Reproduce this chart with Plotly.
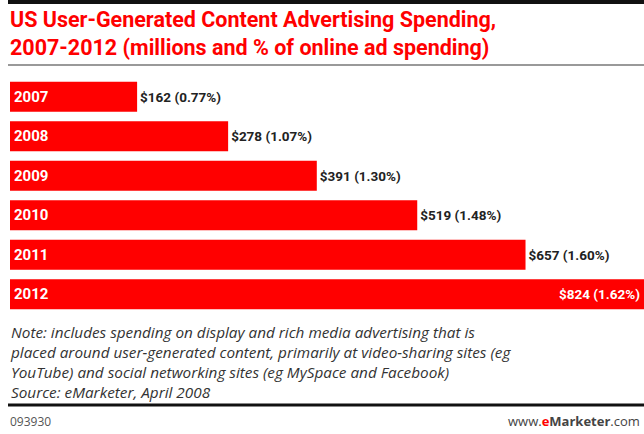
import plotly.graph_objects as go

# data
years = ['2007', '2008', '2009', '2010', '2011', '2012']
spend = [162, 278, 391, 519, 657, 824]
share = [0.77, 1.07, 1.30, 1.48, 1.60, 1.62]

W, H = 644, 434
ML, MR, MT, MB = 10, 0, 77, 120
PW, PH = W - ML - MR, H - MT - MB
XMAX = 808
FONT = 'Roboto'


def px_x(x):
    return (x - ML) / PW


def px_y(y):
    return (H - MB - y) / PH


labels = ['<b>$%d (%.2f%%)</b>' % (v, s) for v, s in zip(spend, share)]
# last bar runs off the right edge, its label sits inside it (annotation below)
out_labels = labels[:-1] + ['']

fig = go.Figure()
fig.add_trace(go.Bar(
    y=years, x=spend, orientation='h',
    marker=dict(color='#ff0000', line=dict(width=0)),
    text=out_labels, textposition='outside', constraintext='none',
    outsidetextfont=dict(family=FONT, size=13.5, color='#222222'),
    cliponaxis=False, hoverinfo='skip',
))

annotations = []
# year names inside the bars
for i, yr in enumerate(years):
    annotations.append(dict(
        x=0, y=i, xref='x', yref='y', text='<b>%s</b>' % yr, showarrow=False,
        xanchor='left', xshift=2,
        font=dict(family=FONT, size=15, color='white')))

# 2012 value, inside the clipped bar (paper coords so it is not hidden off-range)
annotations.append(dict(
    x=spend[-1] / XMAX, y=len(years) - 1, xref='paper', yref='y', text=labels[-1], showarrow=False,
    xanchor='right', xshift=-15, font=dict(family=FONT, size=13.5, color='white')))

# title
annotations.append(dict(
    x=px_x(8), y=px_y(5), xref='paper', yref='paper', xanchor='left', yanchor='top', align='left',
    text='<b>US User-Generated Content Advertising Spending,<br>2007-2012 (millions and % of online ad spending)</b>',
    showarrow=False, font=dict(family=FONT, size=21.5, color='#ff0000')))

# note
annotations.append(dict(
    x=px_x(8), y=px_y(320), xref='paper', yref='paper', xanchor='left', yanchor='top', align='left',
    text='<i>Note: includes spending on display and rich media advertising that is<br>'
         'placed around user-generated content, primarily at video-sharing sites (eg<br>'
         'YouTube) and social networking sites (eg MySpace and Facebook)<br>'
         'Source: eMarketer, April 2008</i>',
    showarrow=False, font=dict(family='Open Sans', size=15.3, color='#333333')))

annotations.append(dict(
    x=px_x(8), y=px_y(432), xref='paper', yref='paper', xanchor='left', yanchor='bottom',
    text='093930', showarrow=False, font=dict(family='Open Sans', size=12, color='#555555')))
annotations.append(dict(
    x=px_x(642), y=px_y(432), xref='paper', yref='paper', xanchor='right', yanchor='bottom',
    text='www.<span style="color:#ff0000"><b>e</b></span><b>Marketer</b>.com', showarrow=False,
    font=dict(family='Open Sans', size=13, color='#444444')))

shapes = [
    dict(type='line', xref='paper', yref='paper', x0=px_x(8), x1=px_x(644), y0=px_y(2), y1=px_y(2),
         line=dict(color='#111111', width=4)),
    dict(type='line', xref='paper', yref='paper', x0=px_x(8), x1=px_x(644), y0=px_y(65), y1=px_y(65),
         line=dict(color='#999999', width=2)),
    dict(type='line', xref='paper', yref='paper', x0=px_x(8), x1=px_x(644), y0=px_y(405), y1=px_y(405),
         line=dict(color='#111111', width=3)),
]

fig.update_layout(
    width=W, height=H, margin=dict(l=ML, r=MR, t=MT, b=MB),
    paper_bgcolor='white', plot_bgcolor='white',
    bargap=0.24, showlegend=False,
    xaxis=dict(range=[0, XMAX], visible=False, fixedrange=True),
    yaxis=dict(type='category', range=[len(years) - 0.5, -0.5], visible=False, fixedrange=True),
    annotations=annotations, shapes=shapes,
)

# the page body has an 8px default margin, drop it so the figure sits at 0,0
fig.write_html('out.html', config={'displayModeBar': False},
               post_script="document.body.style.margin='0';")
